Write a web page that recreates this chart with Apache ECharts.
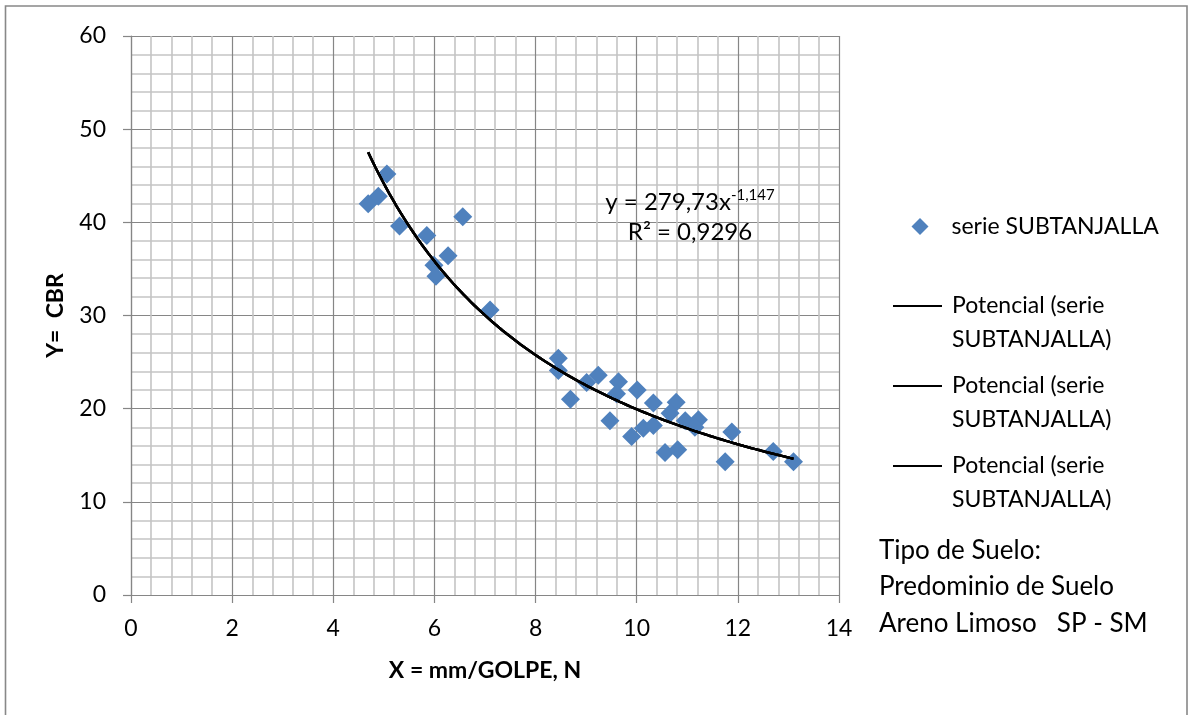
<!DOCTYPE html>
<html>
<head>
<meta charset="utf-8">
<title>CBR vs mm/golpe</title>
<script src="https://cdn.jsdelivr.net/npm/echarts@6/dist/echarts.min.js"></script>
<style>
  html, body { margin: 0; padding: 0; background: #fff; }
  #chart { width: 1190px; height: 715px; }
</style>
</head>
<body>
<div id="chart"></div>
<script>
// Ensayos de penetración: avance por golpe (mm/golpe) y CBR medido
const xMmPerBlow = [4.69, 4.89, 5.06, 5.31, 5.85, 6.56, 6.27, 5.99, 6.03, 7.10,
                    8.45, 8.45, 8.69, 9.01, 9.24, 9.64, 9.60, 9.47, 10.01, 10.33,
                    9.90, 10.13, 10.33, 10.78, 10.66, 10.56, 10.81, 10.96, 11.22, 11.15,
                    11.88, 11.75, 12.70, 13.10];
const yCBR = [42.0, 42.8, 45.2, 39.6, 38.6, 40.6, 36.4, 35.4, 34.2, 30.6,
              25.4, 24.1, 21.0, 22.8, 23.6, 22.9, 21.6, 18.7, 22.0, 20.6,
              17.0, 17.9, 18.2, 20.7, 19.5, 15.3, 15.6, 18.7, 18.8, 18.0,
              17.5, 14.3, 15.4, 14.3];

// Ajuste potencial y = a·x^b
const fitCoef = 279.73;
const fitExp = -1.147;
const fitR2 = 0.9296;

const xTicks = [0, 2, 4, 6, 8, 10, 12, 14];
const yTicks = [0, 10, 20, 30, 40, 50, 60];

const seriesName = 'serie SUBTANJALLA';
const trendNames = ['Potencial 1', 'Potencial 2', 'Potencial 3'];
const trendLabel = 'Potencial (serie\nSUBTANJALLA)';
const soilNote = ['Tipo de Suelo:', 'Predominio de Suelo', 'Areno Limoso   SP - SM'];

const FONT = 'Lato';
const comma = v => String(v).replace('.', ',');

const scatterData = xMmPerBlow.map((x, i) => [x, yCBR[i]]);

// Curva de tendencia entre el menor y el mayor avance medido
const xMin = Math.min(...xMmPerBlow);
const xMax = Math.max(...xMmPerBlow);
const trendData = [];
const steps = 120;
for (let i = 0; i <= steps; i++) {
  const x = xMin + (xMax - xMin) * i / steps;
  trendData.push([x, fitCoef * Math.pow(x, fitExp)]);
}

const chart = echarts.init(document.getElementById('chart'), null, { renderer: 'canvas' });

const axisCommon = {
  type: 'value',
  axisLine: { show: true, lineStyle: { color: '#868686', width: 1.2 } },
  axisTick: { show: true, inside: false, length: 8, lineStyle: { color: '#868686', width: 1.2 } },
  splitLine: { show: true, lineStyle: { color: '#868686', width: 1.2 } },
  minorSplitLine: { show: true, lineStyle: { color: '#c4c4c4', width: 1.6 } },
  axisLabel: { color: '#000', fontFamily: FONT, fontSize: 23 }
};

const trendLegend = (name, top) => ({
  data: [{ name: name, icon: 'rect' }],
  orient: 'vertical',
  left: 893,
  top: top,
  padding: 0,
  itemWidth: 49,
  itemHeight: 2,
  selectedMode: false,
  formatter: () => '\n' + trendLabel,
  textStyle: { color: '#000', fontFamily: FONT, fontSize: 23, lineHeight: 34, padding: [0, 0, 0, 5] }
});

chart.setOption({
  backgroundColor: '#fff',
  animation: false,
  grid: { left: 131, right: 351, top: 36, bottom: 120 },
  xAxis: Object.assign({}, axisCommon, {
    min: xTicks[0],
    max: xTicks[xTicks.length - 1],
    interval: xTicks[1] - xTicks[0],
    minorTick: { show: false, splitNumber: 5 },
    axisLabel: Object.assign({}, axisCommon.axisLabel, { margin: 22 }),
    name: 'X = mm/GOLPE, N',
    nameLocation: 'middle',
    nameGap: 64,
    nameTextStyle: { color: '#000', fontFamily: FONT, fontSize: 23, fontWeight: 'bold' }
  }),
  yAxis: Object.assign({}, axisCommon, {
    min: yTicks[0],
    max: yTicks[yTicks.length - 1],
    interval: yTicks[1] - yTicks[0],
    minorTick: { show: false, splitNumber: 5 },
    axisLabel: Object.assign({}, axisCommon.axisLabel, { margin: 25 }),
    name: 'Y=  CBR',
    nameLocation: 'middle',
    nameGap: 64,
    nameTextStyle: { color: '#000', fontFamily: FONT, fontSize: 23, fontWeight: 'bold' }
  }),
  legend: [
    {
      data: [{ name: seriesName, icon: 'diamond' }],
      orient: 'vertical',
      left: 911.5,
      top: 213,
      padding: 0,
      itemWidth: 17,
      itemHeight: 17,
      selectedMode: false,
      textStyle: { color: '#000', fontFamily: FONT, fontSize: 23, lineHeight: 27, padding: [0, 0, 0, 18] }
    },
    trendLegend(trendNames[0], 255),
    trendLegend(trendNames[1], 335),
    trendLegend(trendNames[2], 415)
  ],
  series: [
    {
      name: seriesName,
      type: 'scatter',
      symbol: 'diamond',
      symbolSize: 19,
      itemStyle: { color: '#4F81BD', opacity: 1 },
      data: scatterData,
      z: 2
    }
  ].concat(trendNames.map(n => ({
    name: n,
    type: 'line',
    symbol: 'none',
    showSymbol: false,
    smooth: false,
    lineStyle: { color: '#000', width: 2.5 },
    itemStyle: { color: '#000' },
    data: trendData,
    z: 3
  }))),
  graphic: [
    {
      type: 'rect',
      silent: true,
      shape: { x: 5.5, y: 6, width: 1181.5, height: 730 },
      style: { fill: 'none', stroke: '#888', lineWidth: 1.6 },
      z: -10
    },
    {
      type: 'text',
      x: 690,
      y: 202,
      style: {
        text: '{m|y = ' + comma(fitCoef) + 'x}{s|' + comma(fitExp) + '}',
        align: 'center',
        verticalAlign: 'middle',
        rich: {
          m: { fontFamily: FONT, fontSize: 24, fill: '#000' },
          s: { fontFamily: FONT, fontSize: 15, fill: '#000', padding: [0, 0, 13, 0] }
        }
      },
      z: 10
    },
    {
      type: 'text',
      x: 690,
      y: 232,
      style: {
        text: 'R² = ' + comma(fitR2),
        align: 'center',
        verticalAlign: 'middle',
        fontFamily: FONT,
        fontSize: 24,
        fill: '#000'
      },
      z: 10
    },
    {
      type: 'text',
      left: 879,
      top: 532,
      style: {
        text: soilNote.join('\n'),
        fontFamily: FONT,
        fontSize: 26,
        lineHeight: 36.5,
        fill: '#000'
      }
    }
  ]
});
</script>
</body>
</html>
